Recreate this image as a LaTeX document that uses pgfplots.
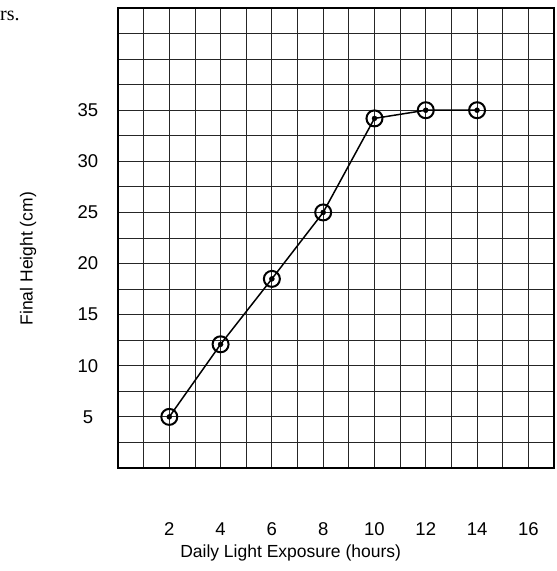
\documentclass[border=0pt]{standalone}
\usepackage{pgfplots}
\pgfplotsset{compat=1.18}
\usepackage{fontspec}
\setmainfont{Liberation Sans}
\newfontfamily\seriffont{Liberation Serif}
\pgfplotstableread{
x y
2 5
4 12.1
6 18.5
8 25
10 34.2
12 35
14 35
}\datatable
\begin{document}
\begin{tikzpicture}
\path[use as bounding box] (-118bp,-103bp) rectangle (439bp,468bp);
\begin{axis}[
  scale only axis,
  width=436bp, height=460bp,
  at={(0,0)}, anchor=south west,
  xmin=0, xmax=17, ymin=0, ymax=45,
  xtick={2,4,...,16},
  ytick={5,10,...,35},
  minor xtick={0,1,...,17},
  minor ytick={0,2.5,...,45},
  grid=both,
  major grid style={black!85, line width=0.8pt},
  minor grid style={black!85, line width=0.8pt},
  major tick length=0pt, minor tick length=0pt,
  axis line style={black, line width=1.8pt},
  /pgf/number format/assume math mode=true,
  tick label style={font=\fontsize{18.5bp}{21bp}\selectfont},
  xticklabel style={anchor=center, yshift=-61bp},
  yticklabel style={anchor=center, xshift=-30bp},
  xlabel={Daily Light Exposure (hours)},
  ylabel={Final Height (cm)},
  label style={font=\fontsize{17.5bp}{20bp}\selectfont},
  xlabel style={at={(axis description cs:0.396,0)}, anchor=center, yshift=-85bp},
  ylabel style={at={(axis description cs:-0.206,0.455)}, anchor=center},
  clip=false,
]
\addplot[black, line width=1.5pt, mark=o, mark size=8bp, mark options={line width=2pt, fill=none}] table[x=x,y=y] {\datatable};
\addplot[only marks, black, mark=*, mark size=2.5bp] table[x=x,y=y] {\datatable};
\end{axis}
\node[anchor=base west, inner sep=0pt, font=\seriffont\fontsize{20bp}{22bp}\selectfont] at (-118bp,447bp) {rs.};
\end{tikzpicture}
\end{document}
